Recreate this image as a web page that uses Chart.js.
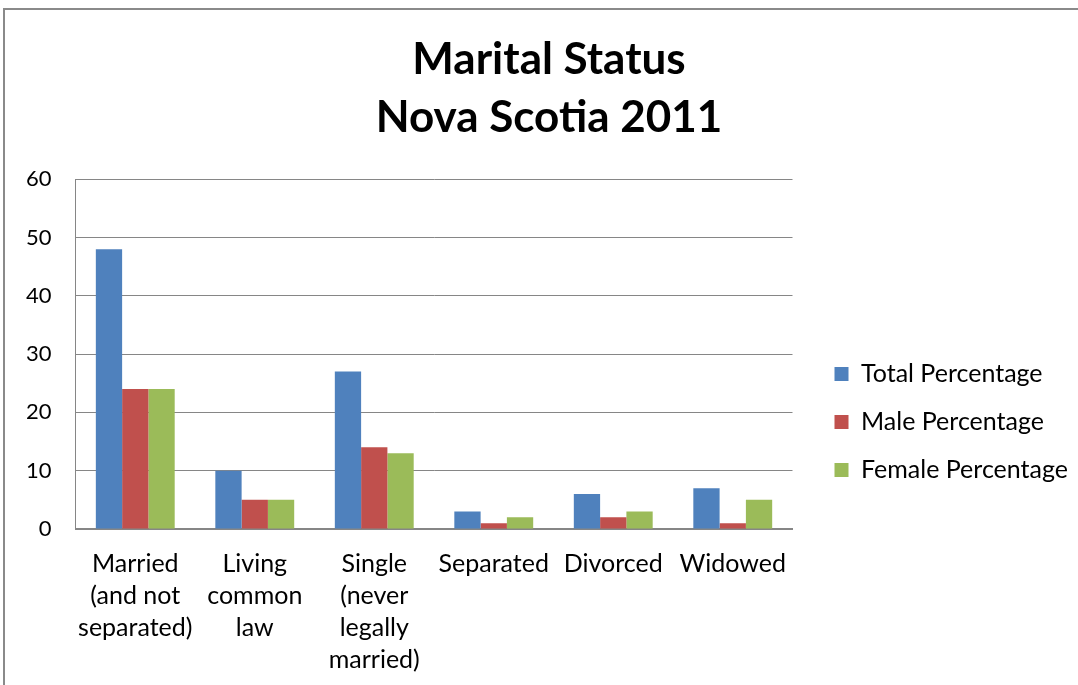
<!DOCTYPE html>
<html>
<head>
<meta charset="utf-8">
<script src="https://cdn.jsdelivr.net/npm/chart.js@4/dist/chart.umd.min.js"></script>
<style>
  html, body { margin: 0; padding: 0; background: #fff; overflow: hidden; width: 1078px; height: 685px; }
  #frame { position: absolute; left: 3px; top: 8px; width: 1092px; height: 700px; border-left: 2px solid #8a8a8a; border-top: 2px solid #8a8a8a; }
  #wrap { position: absolute; left: 0; top: 0; width: 1092px; height: 685px; }
</style>
</head>
<body>
<div id="frame">
  <div id="wrap"><canvas id="myChart"></canvas></div>
</div>
<script>
// categories
var categories = [
    ['Married', '(and not', 'separated)'],
    ['Living', 'common', 'law'],
    ['Single', '(never', 'legally', 'married)'],
    'Separated',
    'Divorced',
    'Widowed'
];

// series values (percent)
var totalPct = [48, 10, 27, 3, 6, 7];
var malePct = [24, 5, 14, 1, 2, 1];
var femalePct = [24, 5, 13, 2, 3, 5];

var seriesNames = ['Total Percentage', 'Male Percentage', 'Female Percentage'];
var titleLines = ['Marital Status', 'Nova Scotia 2011'];
var yTicks = [0, 10, 20, 30, 40, 50, 60];

const canvas_ = document.getElementById('myChart');
const ctx_ = canvas_.getContext('2d');

const FONT = 'Lato, "Open Sans", sans-serif';
const GRID = '#868686';

// nudge legend away from the plot and re-center the title like Excel does
const nudge_ = {
    id: 'nudge',
    afterLayout: function (chart) {
        if (chart.legend) {
            chart.legend.left += 19;
            chart.legend.right += 19;
        }
        if (chart.titleBlock) {
            chart.titleBlock.left += 20;
            chart.titleBlock.right += 20;
        }
    }
};

const data_ = {
    labels: categories,
    datasets: [{
        label: seriesNames[0],
        data: totalPct,
        backgroundColor: '#4F81BD'
    }, {
        label: seriesNames[1],
        data: malePct,
        backgroundColor: '#C0504D'
    }, {
        label: seriesNames[2],
        data: femalePct,
        backgroundColor: '#9BBB59'
    }]
};

var myChart = new Chart(ctx_, {
    type: 'bar',
    data: data_,
    plugins: [nudge_],
    options: {
        responsive: true,
        maintainAspectRatio: false,
        animation: false,
        datasets: {
            bar: {
                barPercentage: 1.0,
                categoryPercentage: 0.66
            }
        },
        layout: {
            padding: { left: -3, right: 41, top: 0, bottom: 0 }
        },
        plugins: {
            tooltip: { enabled: false },
            title: {
                display: true,
                text: titleLines,
                color: '#000',
                font: { family: FONT, size: 44, weight: 'bold', lineHeight: 1.32 },
                padding: { top: 21, bottom: 32 }
            },
            legend: {
                position: 'right',
                fullSize: false,
                align: 'center',
                title: {
                    display: true,
                    text: ' ',
                    font: { size: 10, lineHeight: 1 },
                    padding: { top: 63, bottom: 63 }
                },
                labels: {
                    color: '#000',
                    font: { family: FONT, size: 25 },
                    boxWidth: 14,
                    boxHeight: 14,
                    padding: 23
                }
            }
        },
        scales: {
            x: {
                grid: { display: false, drawTicks: false },
                border: { display: true, color: GRID, width: 2 },
                ticks: {
                    color: '#000',
                    font: { family: FONT, size: 25, lineHeight: 1.28 },
                    padding: 19,
                    maxRotation: 0,
                    autoSkip: false
                }
            },
            y: {
                min: yTicks[0],
                max: yTicks[yTicks.length - 1],
                afterBuildTicks: function (axis) {
                    axis.ticks = yTicks.map(function (v) { return { value: v }; });
                },
                grid: { color: GRID, lineWidth: 1, drawTicks: false },
                border: { display: true, color: GRID, width: 1 },
                ticks: {
                    color: '#000',
                    font: { family: FONT, size: 22 },
                    padding: 24
                }
            }
        }
    }
});
</script>
</body>
</html>
